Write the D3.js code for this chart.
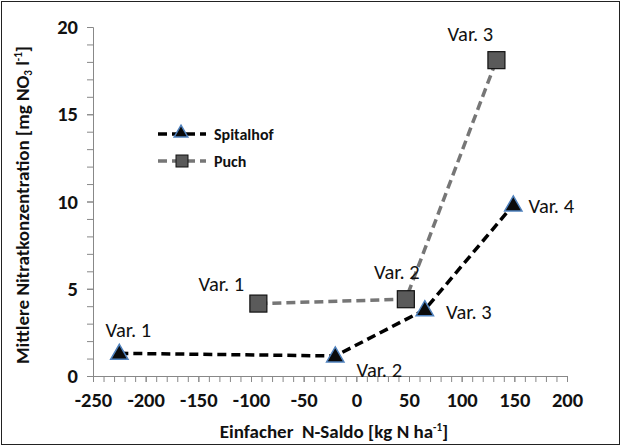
<!DOCTYPE html>
<html>
<head>
<meta charset="utf-8">
<script src="https://cdn.jsdelivr.net/npm/d3@7"></script>
<style>
  body { margin: 0; background: #fff; }
  svg text { font-family: Carlito, Lato, "Open Sans", sans-serif; }
</style>
</head>
<body>
<div id="chart"></div>
<script>
// data
var varLabels = ["Var. 1", "Var. 2", "Var. 3", "Var. 4"];
var spitalX = [-225, -20, 65, 149];
var spitalY = [1.3, 1.15, 3.8, 9.8];
var puchX = [-93, 47, 133];
var puchY = [4.15, 4.4, 18.1];
var xTicks = [-250, -200, -150, -100, -50, 0, 50, 100, 150, 200];
var yTicks = [0, 5, 10, 15, 20];

var svgWidth = 622, svgHeight = 448;
var margin = { top: 27, left: 93, right: 55, bottom: 72 };
var width = svgWidth - margin.left - margin.right;
var height = svgHeight - margin.top - margin.bottom;

var svg = d3.select("#chart").append("svg")
  .attr("width", svgWidth)
  .attr("height", svgHeight);

// outer frame
svg.append("rect")
  .attr("x", 1.5).attr("y", 1.5)
  .attr("width", svgWidth - 4).attr("height", svgHeight - 5)
  .attr("fill", "none").attr("stroke", "#222").attr("stroke-width", 1);

var chartGroup = svg.append("g")
  .attr("transform", `translate(${margin.left}, ${margin.top})`);

var x = d3.scaleLinear().domain([-250, 200]).range([0, width]);
var y = d3.scaleLinear().domain([0, 20]).range([height, 0]);

// minor ticks first, then major ticks with labels
chartGroup.append("g")
  .attr("transform", `translate(0, ${height})`)
  .call(d3.axisBottom(x).tickValues(d3.range(-250, 201, 10)).tickSize(6).tickFormat(""))
  .call(g => g.select(".domain").remove());
chartGroup.append("g")
  .call(d3.axisLeft(y).tickValues(d3.range(0, 21, 1)).tickSize(6).tickFormat(""))
  .call(g => g.select(".domain").remove());

var xAxisG = chartGroup.append("g")
  .attr("transform", `translate(0, ${height})`)
  .call(d3.axisBottom(x).tickValues(xTicks).tickSize(6).tickPadding(10).tickFormat(d => String(d)));
var yAxisG = chartGroup.append("g")
  .call(d3.axisLeft(y).tickValues(yTicks).tickSize(6).tickPadding(9).tickFormat(d => String(d)));

[xAxisG, yAxisG].forEach(function(g) {
  g.attr("font-family", null).attr("font-size", null);
  g.selectAll("text")
    .attr("font-size", 20.5)
    .attr("font-weight", "bold")
    .attr("fill", "#111");
});

chartGroup.selectAll(".tick line").attr("stroke", "#888");
chartGroup.selectAll(".domain").attr("stroke", "#888");

// series lines
var spital = spitalX.map((d, i) => ({ x: d, y: spitalY[i], label: varLabels[i] }));
var puch = puchX.map((d, i) => ({ x: d, y: puchY[i], label: varLabels[i] }));

var line = d3.line().x(d => x(d.x)).y(d => y(d.y));

chartGroup.append("path")
  .datum(puch)
  .attr("d", line)
  .attr("fill", "none")
  .attr("stroke", "#767676")
  .attr("stroke-width", 3.5)
  .attr("stroke-dasharray", "9,5");

chartGroup.append("path")
  .datum(spital)
  .attr("d", line)
  .attr("fill", "none")
  .attr("stroke", "#000")
  .attr("stroke-width", 3.5)
  .attr("stroke-dasharray", "9,5");

var triangle = d3.symbol().type(d3.symbolTriangle).size(130);

chartGroup.selectAll(".sq")
  .data(puch)
  .enter()
  .append("rect")
  .attr("x", d => x(d.x) - 8.5)
  .attr("y", d => y(d.y) - 8.5)
  .attr("width", 17).attr("height", 17)
  .attr("fill", "#5a5a5a")
  .attr("stroke", "#111")
  .attr("stroke-width", 1.2);

chartGroup.selectAll(".tri")
  .data(spital)
  .enter()
  .append("path")
  .attr("d", triangle)
  .attr("transform", d => `translate(${x(d.x)}, ${y(d.y) + 1})`)
  .attr("fill", "#0a0a0a")
  .attr("stroke", "#4f81bd")
  .attr("stroke-width", 1.5);

// data labels, centre offsets (layout only)
var spitalOffsets = [[9, -16], [44, 21], [44, 9], [38, 8]];
var puchOffsets = [[-37, -13], [-9, -20], [-26, -19]];

chartGroup.selectAll(".slab")
  .data(spital)
  .enter()
  .append("text")
  .attr("x", (d, i) => x(d.x) + spitalOffsets[i][0])
  .attr("y", (d, i) => y(d.y) + spitalOffsets[i][1])
  .attr("text-anchor", "middle")
  .attr("font-size", 20.5)
  .attr("fill", "#111")
  .text(d => d.label);

chartGroup.selectAll(".plab")
  .data(puch)
  .enter()
  .append("text")
  .attr("x", (d, i) => x(d.x) + puchOffsets[i][0])
  .attr("y", (d, i) => y(d.y) + puchOffsets[i][1])
  .attr("text-anchor", "middle")
  .attr("font-size", 20.5)
  .attr("fill", "#111")
  .text(d => d.label);

// legend
var legend = svg.append("g");
var legendItems = [
  { name: "Spitalhof", color: "#000", yPos: 134, shape: "tri" },
  { name: "Puch", color: "#767676", yPos: 161, shape: "sq" }
];
legendItems.forEach(function(item) {
  legend.append("line")
    .attr("x1", 158).attr("x2", 206)
    .attr("y1", item.yPos).attr("y2", item.yPos)
    .attr("stroke", item.color)
    .attr("stroke-width", 3.5)
    .attr("stroke-dasharray", "9,5");
  if (item.shape === "tri") {
    legend.append("path")
      .attr("d", d3.symbol().type(d3.symbolTriangle).size(80))
      .attr("transform", `translate(181, ${item.yPos - 1})`)
      .attr("fill", "#0a0a0a")
      .attr("stroke", "#4f81bd")
      .attr("stroke-width", 1.5);
  } else {
    legend.append("rect")
      .attr("x", 176).attr("y", item.yPos - 6)
      .attr("width", 12).attr("height", 12)
      .attr("fill", "#5a5a5a")
      .attr("stroke", "#111");
  }
  legend.append("text")
    .attr("x", 214).attr("y", item.yPos + 5.5)
    .attr("font-size", 16)
    .attr("font-weight", "bold")
    .attr("fill", "#111")
    .text(item.name);
});

// axis titles
var yTitle = svg.append("text")
  .attr("transform", "translate(29, 205) rotate(-90)")
  .attr("text-anchor", "middle")
  .attr("font-size", 19)
  .attr("font-weight", "bold")
  .attr("fill", "#111");
yTitle.append("tspan").text("Mittlere Nitratkonzentration [mg NO");
yTitle.append("tspan").attr("font-size", 11).attr("dy", 3).text("3");
yTitle.append("tspan").attr("dy", -3).text(" l");
yTitle.append("tspan").attr("font-size", 11).attr("dy", -7).text("-1");
yTitle.append("tspan").attr("dy", 7).text("]");

var xTitle = svg.append("text")
  .attr("x", 334).attr("y", 438)
  .attr("text-anchor", "middle")
  .attr("font-size", 19)
  .attr("font-weight", "bold")
  .attr("fill", "#111");
xTitle.append("tspan").text("Einfacher\u00a0 N-Saldo [kg N ha");
xTitle.append("tspan").attr("font-size", 11).attr("dy", -7).text("-1");
xTitle.append("tspan").attr("dy", 7).text("]");
</script>
</body>
</html>
